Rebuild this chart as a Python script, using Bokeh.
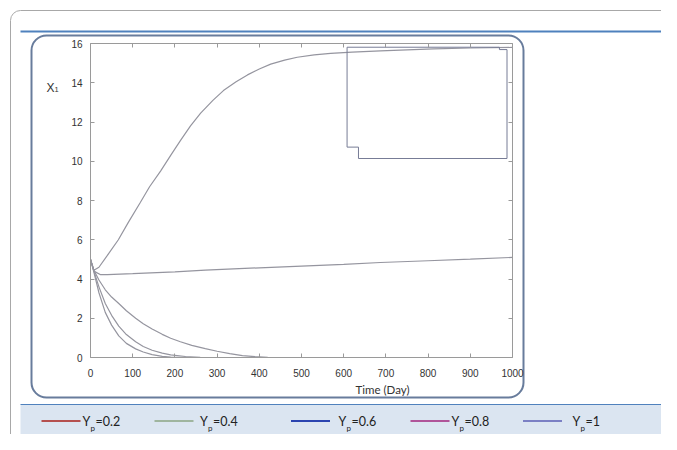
from bokeh.plotting import figure
from bokeh.models import BoxAnnotation, Label, LinearAxis, FixedTicker, Range1d
from bokeh.embed import file_html
from bokeh.resources import INLINE

# ---------------- data ----------------
yp_values = [0.2, 0.4, 0.6, 0.8, 1]
yp_texts = ["=0.2", "=0.4", "=0.6", "=0.8", "=1"]
legend_colors = ["#b5504f", "#9fb59f", "#2b44b0", "#b0559a", "#7b80c4"]

t_yp02 = [0, 8, 20, 40, 66, 90, 118, 140, 166, 190, 213, 237, 261, 290, 315, 345,
          372, 400, 427, 460, 490, 530, 569, 620, 687, 750, 813, 900, 1000]
x1_yp02 = [5.0, 4.45, 4.6, 5.2, 6.0, 6.9, 7.9, 8.7, 9.5, 10.3, 11.05, 11.8, 12.45,
           13.1, 13.6, 14.05, 14.4, 14.7, 14.95, 15.15, 15.3, 15.42, 15.5, 15.56,
           15.62, 15.68, 15.73, 15.77, 15.8]

t_yp04 = [0, 8, 24, 40, 100, 200, 272, 400, 500, 600, 687, 800, 900, 1000]
x1_yp04 = [5.0, 4.4, 4.22, 4.22, 4.27, 4.36, 4.45, 4.57, 4.66, 4.75, 4.84, 4.93, 5.01, 5.1]

t_yp06 = [0, 8, 20, 35, 50, 67, 85, 107, 125, 146, 170, 190, 213, 240, 272, 300,
          330, 360, 390, 420, 450, 550]
x1_yp06 = [5.0, 4.45, 3.95, 3.45, 3.08, 2.75, 2.38, 2.0, 1.72, 1.45, 1.18, 0.98,
           0.8, 0.62, 0.45, 0.32, 0.2, 0.1, 0.04, 0.01, 0.0, 0.0]

t_yp08 = [0, 8, 20, 35, 50, 67, 85, 107, 125, 146, 170, 190, 225, 260, 300, 550]
x1_yp08 = [5.0, 4.4, 3.6, 2.75, 2.15, 1.6, 1.17, 0.8, 0.56, 0.37, 0.22, 0.13, 0.05,
           0.01, 0.0, 0.0]

t_yp1 = [0, 8, 20, 35, 50, 67, 85, 107, 125, 146, 170, 190, 230, 550]
x1_yp1 = [5.0, 4.35, 3.3, 2.3, 1.65, 1.1, 0.72, 0.44, 0.28, 0.15, 0.06, 0.02, 0.0, 0.0]

series_t = [t_yp02, t_yp04, t_yp06, t_yp08, t_yp1]
series_x1 = [x1_yp02, x1_yp04, x1_yp06, x1_yp08, x1_yp1]

# outline of the (blank) legend box left inside the axes of the original figure
blank_box_t = [608, 969, 969, 987, 987, 635, 635, 608, 608]
blank_box_x1 = [15.81, 15.81, 15.69, 15.69, 10.14, 10.14, 10.72, 10.72, 15.81]

x_ticks = [0, 100, 200, 300, 400, 500, 600, 700, 800, 900, 1000]
y_ticks = [0, 2, 4, 6, 8, 10, 12, 14, 16]
x_lim = (0, 1000)
y_lim = (0, 16)
x_title = "Time (Day)"

# ---------------- layout (canvas pixels) ----------------
W, H = 661, 434
AX_L, AX_R, AX_T, AX_B = 90, 512, 43, 357   # plotting box inside the canvas
sx = (AX_R - AX_L) / (x_lim[1] - x_lim[0])
sy = (AX_B - AX_T) / (y_lim[1] - y_lim[0])
xr = Range1d(x_lim[0] - AX_L / sx, x_lim[1] + (W - AX_R) / sx)
yr = Range1d(y_lim[0] - (H - AX_B) / sy, y_lim[1] + AX_T / sy)

p = figure(width=W, height=H, output_backend="svg", toolbar_location=None,
           x_range=xr, y_range=yr, min_border=0,
           x_axis_location=None, y_axis_location=None,
           background_fill_color="white", border_fill_color="white")
p.xgrid.visible = False
p.ygrid.visible = False
p.outline_line_color = None

axis_col = "#9a9a9a"


def make_axis(ticks, fixed, bounds, show_labels, standoff=6):
    ax = LinearAxis(ticker=FixedTicker(ticks=ticks), fixed_location=fixed, bounds=bounds,
                    axis_line_color=axis_col, major_tick_line_color=axis_col,
                    minor_tick_line_color=None, major_tick_in=4, major_tick_out=0,
                    major_label_text_font="Liberation Sans",
                    major_label_text_font_size="10px",
                    major_label_text_color="#333333",
                    major_label_standoff=standoff)
    if not show_labels:
        ax.major_label_overrides = {t: "" for t in ticks}
    return ax


p.add_layout(make_axis(x_ticks, y_lim[0], x_lim, True, 11), "below")
p.add_layout(make_axis(x_ticks, y_lim[1], x_lim, False), "above")
p.add_layout(make_axis(y_ticks, x_lim[0], y_lim, True, 8), "left")
p.add_layout(make_axis(y_ticks, x_lim[1], y_lim, False), "right")


def cbox(l, t, r, b, **kw):
    return BoxAnnotation(left=l, top=t, right=r, bottom=b, left_units="canvas",
                         right_units="canvas", top_units="canvas", bottom_units="canvas",
                         editable=False, **kw)


# page decorations
p.add_layout(cbox(10, 10, 800, 600, fill_alpha=0, line_color="#a8a8a8", line_alpha=1,
                  line_width=1, border_radius=10, level="underlay"))
p.add_layout(cbox(20, 30, 700, 32, fill_color="#4f81bd", fill_alpha=1, line_alpha=0,
                  level="underlay"))
p.add_layout(cbox(31, 35, 523, 397, fill_color="white", fill_alpha=1, line_color="#687c9c",
                  line_alpha=1, line_width=2, border_radius=15, level="underlay"))
p.add_layout(cbox(20, 404, 700, 600, fill_color="#dbe5f1", fill_alpha=1, line_alpha=0,
                  level="underlay"))
p.add_layout(cbox(20, 403.5, 700, 404.5, fill_color="#4f81bd", fill_alpha=1, line_alpha=0,
                  level="underlay"))

# curves
for ts, xs in zip(series_t, series_x1):
    p.line(ts, xs, line_color="#95959f", line_width=1.2)
p.line(blank_box_t, blank_box_x1, line_color="#777c96", line_width=1)

# axis titles
p.add_layout(Label(x=382, y=389, x_units="canvas", y_units="canvas", text=x_title,
                   text_font="Lato", text_font_size="11.5px", text_color="#333333",
                   text_align="center", text_baseline="middle"))
p.add_layout(Label(x=46, y=87, x_units="canvas", y_units="canvas", text="X",
                   text_font="Liberation Sans", text_font_size="12px", text_color="#333333",
                   text_align="left", text_baseline="alphabetic"))
p.add_layout(Label(x=54, y=89, x_units="canvas", y_units="canvas", text="1",
                   text_font="Liberation Sans", text_font_size="7.5px", text_color="#333333",
                   text_align="left", text_baseline="alphabetic"))

# legend
legend_line_x0 = [41, 154, 290.5, 410, 522.5]
legend_text_x = [82, 199.5, 338, 451, 572]
for yp, txt, col, lx, tx in zip(yp_values, yp_texts, legend_colors, legend_line_x0, legend_text_x):
    p.add_layout(cbox(lx, 419.5, lx + 39, 421.5, fill_color=col, fill_alpha=1, line_alpha=0))
    p.add_layout(Label(x=tx, y=421, x_units="canvas", y_units="canvas", text="Y",
                       text_font="Lato", text_font_size="12.5px", text_color="#222222",
                       text_baseline="alphabetic"))
    p.add_layout(Label(x=tx + 8, y=427.5, x_units="canvas", y_units="canvas", text="p",
                       text_font="Lato", text_font_size="8px", text_color="#222222",
                       text_baseline="alphabetic"))
    p.add_layout(Label(x=tx + 13, y=421, x_units="canvas", y_units="canvas", text=txt,
                       text_font="Lato", text_font_size="12.5px", text_color="#222222",
                       text_baseline="alphabetic"))

open("out.html", "w").write(file_html(p, INLINE))
